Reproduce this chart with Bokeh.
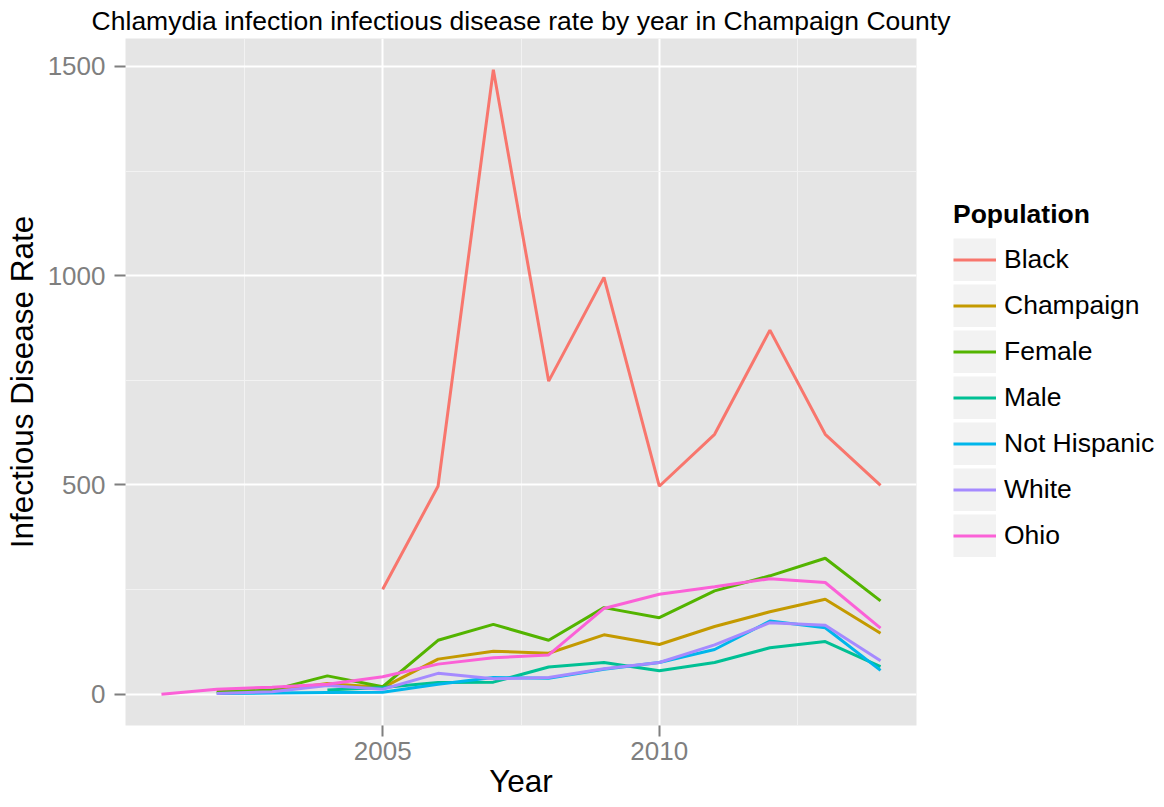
from bokeh.plotting import figure
from bokeh.layouts import row
from bokeh.models import Range1d, SingleIntervalTicker, Legend, LegendItem
from bokeh.embed import file_html
from bokeh.resources import INLINE

populations = ["Black", "Champaign", "Female", "Male", "Not Hispanic", "White", "Ohio"]
colors = ["#F8766D", "#C49A00", "#53B400", "#00C094", "#00B6EB", "#A58AFF", "#FB61D7"]

black_years = list(range(2005, 2015))
black_rate = [251, 497, 1492, 748, 996, 497, 621, 870, 621, 499]
champaign_years = list(range(2002, 2015))
champaign_rate = [5, 8, 26, 16, 84, 103, 98, 142, 119, 162, 197, 227, 146]
female_years = list(range(2002, 2015))
female_rate = [6, 10, 44, 18, 129, 167, 129, 207, 183, 247, 283, 325, 223]
male_years = list(range(2004, 2015))
male_rate = [10, 16, 28, 29, 65, 76, 56, 76, 111, 126, 66]
nothisp_years = list(range(2002, 2015))
nothisp_rate = [2, 3, 4, 5, 24, 40, 38, 60, 76, 107, 175, 159, 57]
white_years = list(range(2002, 2015))
white_rate = [2, 6, 21, 12, 50, 37, 40, 61, 76, 118, 171, 165, 80]
ohio_years = list(range(2001, 2015))
ohio_rate = [0, 12, 17, 24, 42, 72, 87, 94, 205, 239, 257, 276, 267, 158]

series = [
    (black_years, black_rate),
    (champaign_years, champaign_rate),
    (female_years, female_rate),
    (male_years, male_rate),
    (nothisp_years, nothisp_rate),
    (white_years, white_rate),
    (ohio_years, ohio_rate),
]

all_x = [x for s in series for x in s[0]]
all_y = [y for s in series for y in s[1]]
xpad = 0.05 * (max(all_x) - min(all_x))
ypad = 0.05 * (max(all_y) - min(all_y))

FONT = "Liberation Sans"
LW = 3

p = figure(
    width=952, height=807,
    x_range=Range1d(min(all_x) - xpad, max(all_x) + xpad),
    y_range=Range1d(min(all_y) - ypad, max(all_y) + ypad),
    output_backend="svg", toolbar_location=None,
    min_border_left=124, min_border_right=36, min_border_top=38, min_border_bottom=82,
    background_fill_color="#E5E5E5", border_fill_color="white",
)
p.outline_line_color = None

p.title.text = "Chlamydia infection infectious disease rate by year in Champaign County"
p.title.text_font = FONT
p.title.text_font_size = "26.5px"
p.title.text_font_style = "normal"
p.title.text_color = "black"
p.title.align = "center"
p.title.standoff = 5

p.xaxis.ticker = SingleIntervalTicker(interval=5, num_minor_ticks=2)
p.yaxis.ticker = SingleIntervalTicker(interval=500, num_minor_ticks=2)
for ax in (p.xaxis, p.yaxis):
    ax.axis_line_color = None
    ax.major_tick_line_color = "#7F7F7F"
    ax.major_tick_line_width = 2
    ax.major_tick_out = 11
    ax.major_tick_in = 0
    ax.minor_tick_line_color = None
    ax.major_label_text_color = "#7F7F7F"
    ax.major_label_text_font = FONT
    ax.major_label_text_font_size = "26px"
    ax.axis_label_text_font = FONT
    ax.axis_label_text_font_size = "31.5px"
    ax.axis_label_text_font_style = "normal"
    ax.axis_label_text_color = "black"
p.xaxis.major_label_standoff = 5
p.xaxis.axis_label_standoff = 0
p.yaxis.major_label_standoff = 9
p.yaxis.axis_label_standoff = 5
p.xaxis.axis_label = "Year"
p.yaxis.axis_label = "Infectious Disease Rate"

for g in (p.xgrid, p.ygrid):
    g.grid_line_color = "white"
    g.grid_line_width = 2
    g.minor_grid_line_color = "#F2F2F2"
    g.minor_grid_line_width = 1

for color, (xs, ys) in zip(colors, series):
    p.line(x=xs, y=ys, line_color=color, line_width=LW)

# legend panel (its renderers carry the data but lie outside its 0..1 view)
lg = figure(
    width=212, height=807, x_range=Range1d(0, 1), y_range=Range1d(0, 1),
    x_axis_type=None, y_axis_type=None,
    output_backend="svg", toolbar_location=None,
    min_border_left=0, min_border_right=0, min_border_top=0, min_border_bottom=0,
    background_fill_color="white", border_fill_color="white",
)
lg.outline_line_color = None
lg.xgrid.visible = False
lg.ygrid.visible = False

items = []
for name, color, (xs, ys) in zip(populations, colors, series):
    bg = lg.line(x=xs, y=ys, line_width=43, line_color="#F2F2F2", line_cap="butt")
    r = lg.line(x=xs, y=ys, line_color=color, line_width=LW)
    items.append(LegendItem(label=name, renderers=[bg, r]))

legend = Legend(
    items=items, title="Population",
    title_text_font=FONT, title_text_font_size="26.5px", title_text_font_style="bold",
    title_text_color="black", label_text_color="black",
    label_text_font=FONT, label_text_font_size="26.5px",
    glyph_width=43, glyph_height=43, spacing=3, label_standoff=8,
    padding=0, margin=0, border_line_color=None, background_fill_alpha=0,
    location=(1, 168), title_standoff=8,
)
lg.add_layout(legend)

layout = row(p, lg)
open("out.html", "w").write(file_html(layout, INLINE))
